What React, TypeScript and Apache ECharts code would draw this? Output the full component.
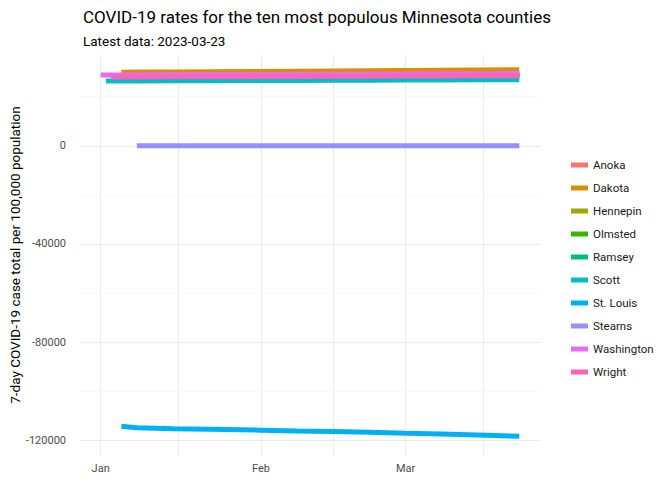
import React, { useEffect, useRef } from "react";
import * as echarts from "echarts";

const counties = ["Anoka","Dakota","Hennepin","Olmsted","Ramsey","Scott","St. Louis","Stearns","Washington","Wright"];
const colors = ["#F8766D","#D89000","#A3A500","#39B600","#00BF7D","#00BFC4","#00B0F6","#9590FF","#E76BF3","#FF62BC"];
const sampleDates = ["2023-01-01","2023-01-02","2023-01-03","2023-01-05","2023-01-08","2023-01-15","2023-01-22","2023-02-01","2023-02-08","2023-02-15","2023-02-22","2023-03-01","2023-03-08","2023-03-15","2023-03-23"];
const startDate: Record<string,string> = {
  Anoka:"2023-01-05", Dakota:"2023-01-05", Hennepin:"2023-01-05", Olmsted:"2023-01-05", Ramsey:"2023-01-05",
  Scott:"2023-01-02", "St. Louis":"2023-01-05", Stearns:"2023-01-08", Washington:"2023-01-01", Wright:"2023-01-03",
};
const values: Record<string, number[]> = {
  Anoka:      [28400,28400,28400,28400,28400,28450,28500,28550,28600,28650,28700,28750,28800,28850,28900],
  Dakota:     [30000,30000,30000,30000,30050,30100,30200,30300,30400,30500,30600,30700,30800,30900,31000],
  Hennepin:   [28300,28300,28300,28300,28300,28350,28400,28450,28500,28550,28600,28650,28700,28750,28800],
  Olmsted:    [28200,28200,28200,28200,28200,28250,28300,28350,28400,28450,28500,28550,28600,28650,28700],
  Ramsey:     [28300,28300,28300,28300,28300,28350,28400,28450,28500,28550,28600,28650,28700,28750,28800],
  Scott:      [26400,26400,26400,26400,26450,26500,26550,26600,26650,26700,26750,26800,26850,26900,26950],
  "St. Louis":[-114300,-114300,-114300,-114300,-114900,-115300,-115500,-115900,-116200,-116400,-116700,-117100,-117400,-117800,-118400],
  Stearns:    [0,0,0,0,0,0,0,0,0,0,0,0,0,0,0],
  Washington: [28900,28900,28900,28900,28950,29000,29050,29100,29150,29200,29250,29300,29350,29400,29450],
  Wright:     [28000,28000,28000,28000,28050,28100,28150,28200,28250,28300,28350,28400,28450,28500,28550],
};
const yGrid = [-120000,-100000,-80000,-60000,-40000,-20000,0,20000];
const yMajor = [-120000,-80000,-40000,0];

function dayList(): string[] {
  const out: string[] = [];
  const d = new Date(Date.UTC(2022, 11, 28));
  const end = Date.UTC(2023, 2, 27);
  while (d.getTime() <= end) {
    out.push(d.toISOString().slice(0, 10));
    d.setUTCDate(d.getUTCDate() + 1);
  }
  return out;
}
const monthNames: Record<string,string> = { "01": "Jan", "02": "Feb", "03": "Mar" };

export default function App() {
  const ref = useRef<HTMLDivElement>(null);
  useEffect(() => {
    const chart = echarts.init(ref.current!, null, { renderer: "svg" });
    const days = dayList();
    const series: any[] = counties.map((c, i) => ({
      name: c, type: "line", showSymbol: false, symbol: "none",
      lineStyle: { width: 5, color: colors[i] }, itemStyle: { color: colors[i] },
      data: sampleDates.map((d, k) => [d, values[c][k]]).filter((p) => (p[0] as string) >= startDate[c]),
      z: 5,
    }));
    series.unshift({
      type: "line", data: [], silent: true, z: 0,
      markLine: {
        silent: true, symbol: "none", animation: false, z: 0,
        data: yGrid.map((v) => ({
          yAxis: v,
          lineStyle: { color: yMajor.includes(v) ? "#ebebeb" : "#f3f3f3", width: yMajor.includes(v) ? 1.1 : 0.6, type: "solid" },
          label: { show: yMajor.includes(v), position: "start", formatter: String(v), color: "#4d4d4d", fontSize: 11, distance: 14 },
        })),
      },
    });
    chart.setOption({
      animation: false,
      textStyle: { fontFamily: "Roboto" },
      title: [
        { text: "COVID-19 rates for the ten most populous Minnesota counties", left: 78, top: 3, textStyle: { fontSize: 17, fontWeight: "normal", color: "#000" } },
        { text: "Latest data: 2023-03-23", left: 78, top: 29, textStyle: { fontSize: 13.5, fontWeight: "normal", color: "#000" } },
      ],
      legend: {
        orient: "vertical", left: 566, top: 154, itemGap: 11, itemWidth: 17, itemHeight: 5,
        icon: "rect", data: counties, textStyle: { fontSize: 11.5, color: "#1a1a1a" },
      },
      grid: { left: 80, right: 132, top: 55, bottom: 25 },
      xAxis: {
        type: "category", data: days, boundaryGap: false,
        axisLine: { show: false }, axisTick: { show: false },
        axisLabel: {
          interval: (i: number, v: string) => v.slice(8) === "01",
          formatter: (v: string) => monthNames[v.slice(5, 7)] || "",
          color: "#4d4d4d", fontSize: 11, margin: 8,
        },
        splitLine: {
          show: true,
          interval: (i: number, v: string) => v.slice(8) === "01" || v === "2023-01-16" || v === "2023-02-15" || v === "2023-03-16",
          lineStyle: { color: "#ebebeb" },
        },
      },
      yAxis: {
        type: "value", min: -126000, max: 37000,
        axisLabel: { show: false }, splitLine: { show: false }, axisLine: { show: false }, axisTick: { show: false },
        name: "7-day COVID-19 case total per 100,000 population", nameLocation: "middle", nameGap: 58,
        nameTextStyle: { fontSize: 13.5, color: "#000" },
      },
      series,
    });
    return () => chart.dispose();
  }, []);
  return <div ref={ref} style={{ width: 672, height: 480, position: "absolute", left: 0, top: 0, background: "#fff" }} />;
}
